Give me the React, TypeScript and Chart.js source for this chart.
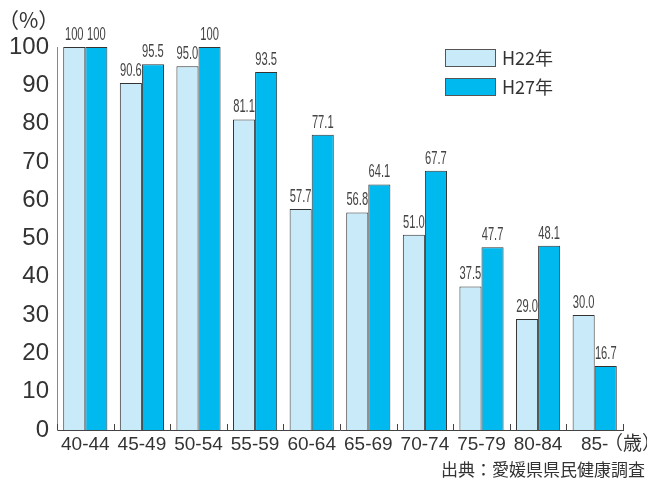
import React, { useEffect, useRef } from "react";
import { Chart, registerables } from "chart.js";

Chart.register(...registerables);

const categories = ["40-44", "45-49", "50-54", "55-59", "60-64", "65-69", "70-74", "75-79", "80-84", "85-"];
const h22Values = [100, 90.6, 95.0, 81.1, 57.7, 56.8, 51.0, 37.5, 29.0, 30.0];
const h27Values = [100, 95.5, 100, 93.5, 77.1, 64.1, 67.7, 47.7, 48.1, 16.7];
const h22Labels = ["100", "90.6", "95.0", "81.1", "57.7", "56.8", "51.0", "37.5", "29.0", "30.0"];
const h27Labels = ["100", "95.5", "100", "93.5", "77.1", "64.1", "67.7", "47.7", "48.1", "16.7"];
const seriesNames = ["H22年", "H27年"];
const yTicks = [0, 10, 20, 30, 40, 50, 60, 70, 80, 90, 100];
const unitY = "（%）";
const unitX = "（歳）";
const sourceText = "出典：愛媛県県民健康調査";

const FONT = "'Liberation Sans', 'Noto Sans CJK JP', sans-serif";
const JFONT = "'Noto Sans CJK JP', sans-serif";

const extrasPlugin = {
  id: "extras",
  afterDatasetsDraw(chart: any) {
    const ctx = chart.ctx;
    const area = chart.chartArea;
    ctx.save();
    // small boundary ticks
    ctx.strokeStyle = "#444";
    ctx.lineWidth = 1;
    const n = categories.length;
    for (let i = 0; i <= n; i++) {
      const px = Math.round(area.left + ((area.right - area.left) * i) / n) + 0.5;
      ctx.beginPath();
      ctx.moveTo(px, area.bottom);
      ctx.lineTo(px, area.bottom - 6);
      ctx.stroke();
    }
    // data labels (condensed)
    const labelSets = [h22Labels, h27Labels];
    ctx.fillStyle = "#444";
    ctx.font = "18px 'Liberation Sans', sans-serif";
    ctx.textAlign = "center";
    ctx.textBaseline = "alphabetic";
    chart.data.datasets.forEach((ds: any, di: number) => {
      const meta = chart.getDatasetMeta(di);
      meta.data.forEach((bar: any, i: number) => {
        ctx.save();
        ctx.translate(bar.x, bar.y - 7);
        ctx.scale(0.62, 1);
        ctx.fillText(labelSets[di][i], 0, 0);
        ctx.restore();
      });
    });
    // legend
    const boxX = 445, boxW = 50, boxH = 17;
    const rows = [49, 78];
    chart.data.datasets.forEach((ds: any, di: number) => {
      ctx.fillStyle = ds.backgroundColor;
      ctx.fillRect(boxX, rows[di], boxW, boxH);
      ctx.strokeStyle = "#555";
      ctx.lineWidth = 1;
      ctx.strokeRect(boxX + 0.5, rows[di] + 0.5, boxW, boxH);
      ctx.fillStyle = "#333";
      ctx.font = "18px " + JFONT;
      ctx.textAlign = "left";
      ctx.textBaseline = "middle";
      ctx.fillText(seriesNames[di], boxX + 57, rows[di] + boxH / 2 + 1);
    });
    // unit labels and source
    ctx.fillStyle = "#333";
    ctx.font = "21px " + JFONT;
    ctx.textAlign = "left";
    ctx.textBaseline = "middle";
    ctx.fillText(unitY, -2, 20);
    ctx.font = "19px " + JFONT;
    ctx.fillText(unitX, 604, 443);
    ctx.font = "17px " + JFONT;
    ctx.textAlign = "right";
    ctx.fillText(sourceText, 645, 470);
    ctx.restore();
  },
};

export default function App() {
  const ref = useRef<HTMLCanvasElement | null>(null);
  useEffect(() => {
    if (!ref.current) return;
    const chart = new Chart(ref.current, {
      type: "bar",
      data: {
        labels: categories,
        datasets: [
          {
            label: seriesNames[0],
            data: h22Values,
            backgroundColor: "#C8EAF9",
            borderColor: "#333",
            borderWidth: 1,
            categoryPercentage: 0.78,
            barPercentage: 1.0,
          },
          {
            label: seriesNames[1],
            data: h27Values,
            backgroundColor: "#00B9EF",
            borderColor: "#333",
            borderWidth: 1,
            categoryPercentage: 0.78,
            barPercentage: 1.0,
          },
        ],
      },
      options: {
        animation: false,
        responsive: false,
        layout: { padding: { left: 0, right: 24, top: 47, bottom: 0 } },
        plugins: { legend: { display: false }, tooltip: { enabled: false } },
        scales: {
          x: {
            grid: { display: false, drawTicks: false },
            border: { display: true, color: "#444", width: 1 },
            ticks: {
              color: "#333",
              font: { size: 19, family: FONT },
              padding: 3,
              maxRotation: 0,
              autoSkip: false,
            },
            afterFit(scale: any) {
              scale.height = 53;
            },
          },
          y: {
            min: 0,
            max: 100,
            afterBuildTicks(scale: any) {
              scale.ticks = yTicks.map((v) => ({ value: v }));
            },
            grid: { display: false, drawTicks: false },
            border: { display: true, color: "#888", width: 1 },
            ticks: {
              color: "#333",
              font: { size: 24, family: FONT },
              padding: 8,
            },
            afterFit(scale: any) {
              scale.width = 57;
            },
          },
        },
      },
      plugins: [extrasPlugin],
    });
    return () => chart.destroy();
  }, []);
  return (
    <div style={{ position: "fixed", left: 0, top: 0, width: 647, height: 483, background: "#fff" }}>
      <canvas ref={ref} width={647} height={483} style={{ width: 647, height: 483 }} />
    </div>
  );
}
